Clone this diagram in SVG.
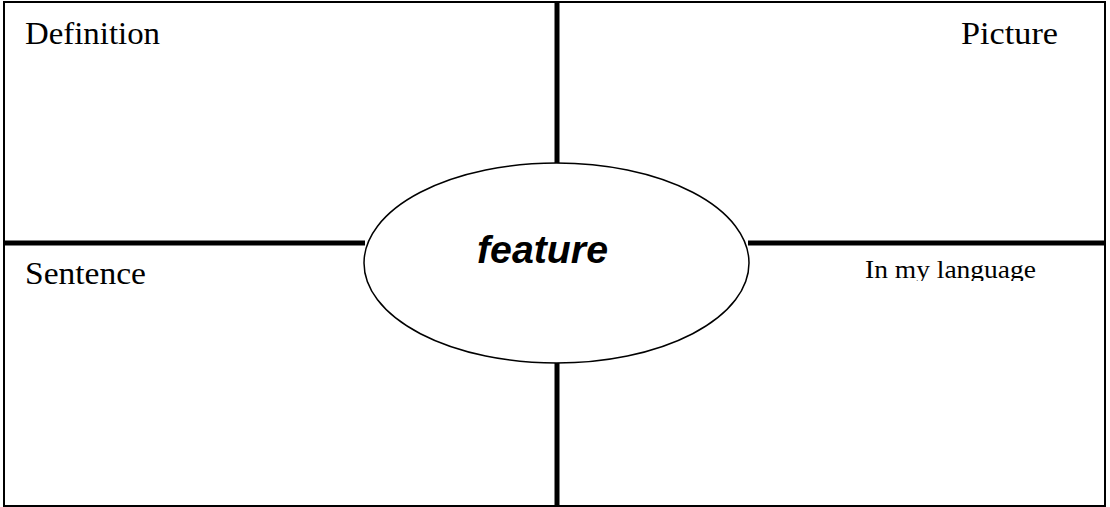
<svg xmlns="http://www.w3.org/2000/svg" width="1110" height="507" viewBox="0 0 1110 507">
<style>
.lbl{font-family:"Liberation Serif","DejaVu Serif",serif;fill:#000}
.bar{stroke:#000;stroke-width:5;fill:none}
</style>
<defs>
<clipPath id="clipLang"><rect x="740" y="246" width="360" height="35"/></clipPath>
</defs>
<rect width="1110" height="507" fill="#fff"/>
<g id="frame">
<rect x="4" y="2" width="1101" height="504" fill="none" stroke="#000" stroke-width="2"/>
</g>
<g id="connectors">
<line class="bar" x1="557" y1="2" x2="557" y2="164"/>
<line class="bar" x1="557" y1="362" x2="557" y2="506"/>
<line class="bar" x1="4" y1="243" x2="365" y2="243"/>
<line class="bar" x1="748" y1="243" x2="1105" y2="243"/>
</g>
<g id="definition"><text class="lbl" x="25" y="44" font-size="32" textLength="135" lengthAdjust="spacingAndGlyphs">Definition</text></g>
<g id="picture"><text class="lbl" x="961" y="44" font-size="32" textLength="97" lengthAdjust="spacingAndGlyphs">Picture</text></g>
<g id="sentence"><text class="lbl" x="25" y="284" font-size="32" textLength="121" lengthAdjust="spacingAndGlyphs">Sentence</text></g>
<g id="language"><text class="lbl" x="865" y="278" font-size="26" textLength="171" lengthAdjust="spacingAndGlyphs" clip-path="url(#clipLang)">In my language</text></g>
<g id="center">
<ellipse cx="556.5" cy="263" rx="192.5" ry="100" fill="#fff" stroke="#000" stroke-width="1.5"/>
<text x="477" y="263" font-family="'Liberation Sans',Arial,sans-serif" font-weight="bold" font-style="italic" font-size="38" textLength="131" lengthAdjust="spacingAndGlyphs">feature</text>
</g>
</svg>
